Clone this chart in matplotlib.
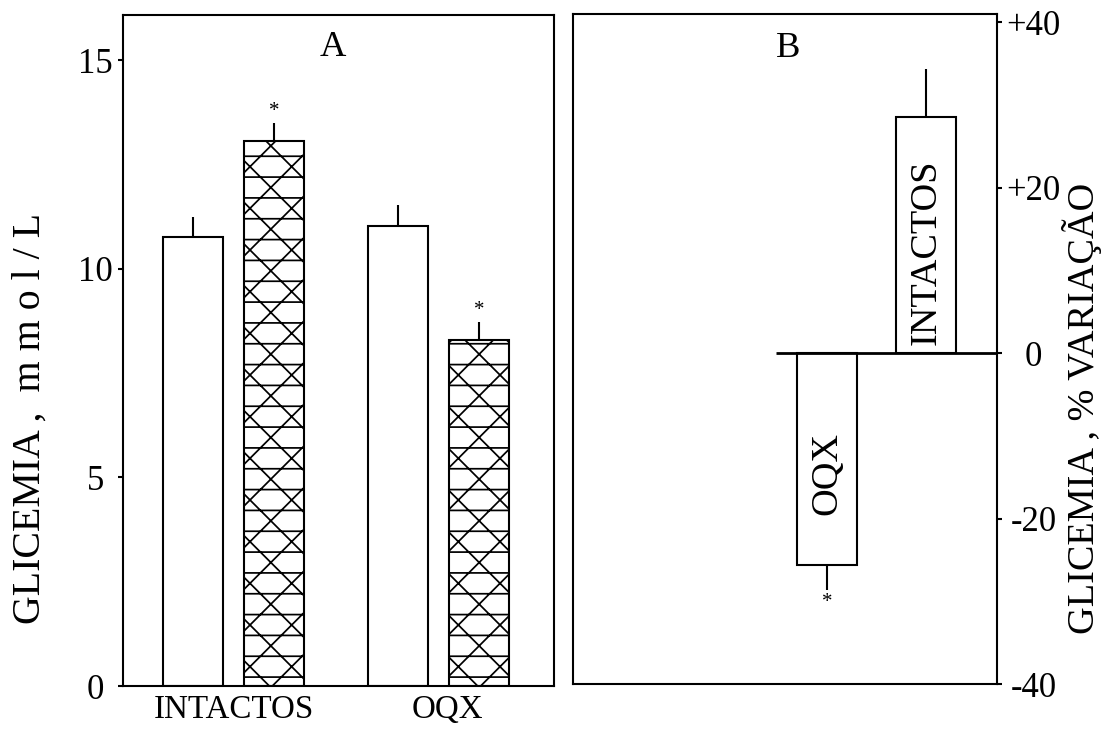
import numpy as np
import matplotlib.pyplot as plt

plt.rcParams['font.family'] = ['Liberation Serif', 'DejaVu Serif']
plt.rcParams['hatch.linewidth'] = 1.0

# painel A - glicemia (mmol/L)
grupos = ['INTACTOS', 'OQX']
a_valores = [10.75, 13.06, 11.02, 8.29]
a_erros = [0.49, 0.43, 0.51, 0.43]
a_tratado = [False, True, False, True]
a_signif = [False, True, False, True]
a_ticks = [0, 5, 10, 15]

# painel B - variacao percentual
b_rotulos = ['OQX', 'INTACTOS']
b_valores = [-25.6, 28.5]
b_erros = [3.0, 5.8]
b_signif = [True, False]
b_ticks = [-40, -20, 0, 20, 40]
b_ticklabels = ['-40', '-20', '0', '+20', '+40']

# dpi 125 -> hatch cells ~21 px, like the original
fig = plt.figure(figsize=(1106 / 125, 733 / 125), dpi=125)

lw = 1.2

# ---- A ----
axA = fig.add_axes([0.1112, 0.0641, 0.3897, 0.9154])
a_pos = np.array([1.17, 2.52, 4.58, 5.93])
barsA = axA.bar(a_pos, a_valores, width=1.0, color='white',
                edgecolor='black', linewidth=lw, zorder=2)
for b, t in zip(barsA, a_tratado):
    if t:
        b.set_hatch('x-')
axA.errorbar(a_pos, a_valores, yerr=[np.zeros(4), a_erros], fmt='none',
             ecolor='black', elinewidth=lw, capsize=0, zorder=1)
for x, v, e, s in zip(a_pos, a_valores, a_erros, a_signif):
    if s:
        axA.annotate('*', (x, v + e), xytext=(0, 1), textcoords='offset points',
                     ha='center', va='bottom', fontsize=12)
axA.set_xlim(0, 7.18)
axA.set_ylim(0, 16.08)
axA.set_yticks(a_ticks)
axA.set_xticks([(a_pos[0] + a_pos[1]) / 2, (a_pos[2] + a_pos[3]) / 2 + 0.15], grupos)
axA.tick_params(axis='y', direction='out', length=3, width=lw, labelsize=20, pad=13)
for lab in axA.get_yticklabels():
    lab.set_ha('center')
axA.tick_params(axis='x', length=0, labelsize=19, pad=5)
axA.text(0.487, 0.952, 'A', transform=axA.transAxes, ha='center', va='center',
         fontsize=21)

# ---- B ----
axB = fig.add_axes([0.5181, 0.0668, 0.3834, 0.914])
b_pos = np.array([4.24, 5.89])
axB.bar(b_pos, b_valores, width=1.0, color='white', edgecolor='black',
        linewidth=lw, zorder=2)
err_lo = [e if v < 0 else 0 for v, e in zip(b_valores, b_erros)]
err_hi = [e if v > 0 else 0 for v, e in zip(b_valores, b_erros)]
axB.errorbar(b_pos, b_valores, yerr=[err_lo, err_hi], fmt='none',
             ecolor='black', elinewidth=lw, capsize=0, zorder=1)
axB.hlines(0, 3.38, 7.07, color='black', linewidth=1.6, zorder=3)
for x, v, lab, frac in zip(b_pos, b_valores, b_rotulos, [0.57, 0.43]):
    axB.text(x, v * frac, lab, rotation=90, ha='center', va='center',
             fontsize=22, zorder=4)
for x, v, e, s in zip(b_pos, b_valores, b_erros, b_signif):
    if s:
        axB.annotate('*', (x, v - e), xytext=(0, -2), textcoords='offset points',
                     ha='center', va='top', fontsize=12)
axB.set_xlim(0, 7.07)
axB.set_ylim(-40, 41)
axB.set_xticks([])
axB.yaxis.tick_right()
axB.set_yticks(b_ticks, b_ticklabels)
axB.tick_params(axis='y', direction='out', length=3, width=lw, labelsize=20, pad=18)
for lab in axB.get_yticklabels():
    lab.set_ha('center')
axB.text(0.507, 0.949, 'B', transform=axB.transAxes, ha='center', va='center',
         fontsize=21)

for ax in (axA, axB):
    for sp in ax.spines.values():
        sp.set_linewidth(lw)

fig.text(30 / 1106, 1 - 418 / 733, 'GLICEMIA ,  m m o l / L', rotation=90,
         ha='center', va='center', fontsize=23)
fig.text(1082 / 1106, 1 - 408 / 733, 'GLICEMIA , % VARIAÇÃO', rotation=90,
         ha='center', va='center', fontsize=22)

fig.savefig('out.png', dpi=125)
